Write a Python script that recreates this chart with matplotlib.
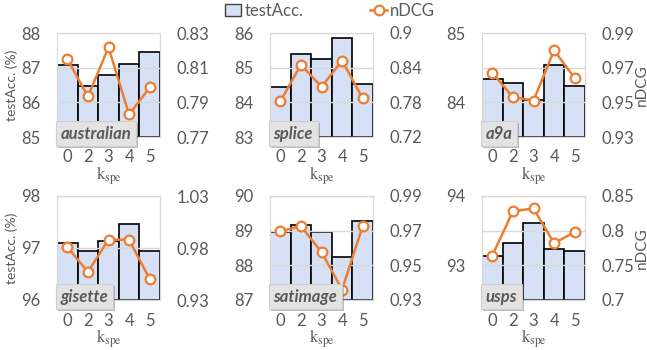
import matplotlib
matplotlib.use("Agg")
import matplotlib.pyplot as plt
import matplotlib.patheffects as pe
from matplotlib.lines import Line2D
from matplotlib.patches import Patch
from matplotlib.ticker import FuncFormatter

plt.rcParams['font.family'] = ['Lato', 'DejaVu Sans']
plt.rcParams['mathtext.fontset'] = 'stix'

k_labels = ["0", "2", "3", "4", "5"]
names = ["australian", "splice", "a9a", "gisette", "satimage", "usps"]

acc_australian = [87.08, 86.47, 86.79, 87.10, 87.45]
acc_splice = [84.45, 85.39, 85.25, 85.85, 84.53]
acc_a9a = [84.34, 84.28, 84.03, 84.54, 84.24]
acc_gisette = [97.10, 96.935, 97.13, 97.47, 96.935]
acc_satimage = [88.95, 89.16, 88.96, 88.23, 89.29]
acc_usps = [93.13, 93.32, 93.61, 93.24, 93.20]

ndcg_australian = [0.815, 0.7934, 0.8217, 0.783, 0.7986]
ndcg_splice = [0.7815, 0.845, 0.807, 0.852, 0.787]
ndcg_a9a = [0.967, 0.953, 0.951, 0.980, 0.964]
ndcg_gisette = [0.981, 0.957, 0.988, 0.988, 0.950]
ndcg_satimage = [0.9697, 0.9726, 0.9577, 0.936, 0.9726]
ndcg_usps = [0.764, 0.828, 0.832, 0.782, 0.798]

acc_all = [acc_australian, acc_splice, acc_a9a, acc_gisette, acc_satimage, acc_usps]
ndcg_all = [ndcg_australian, ndcg_splice, ndcg_a9a, ndcg_gisette, ndcg_satimage, ndcg_usps]

acc_lims = [(85, 88), (83, 86), (83.5, 85), (96, 98), (87, 90), (92.5, 94)]
acc_ticks = [[85, 86, 87, 88], [83, 84, 85, 86], [84, 85], [96, 97, 98], [87, 88, 89, 90], [93, 94]]
ndcg_lims = [(0.77, 0.83), (0.72, 0.9), (0.93, 0.99), (0.93, 1.03), (0.93, 0.99), (0.7, 0.85)]
ndcg_ticks = [[0.77, 0.79, 0.81, 0.83], [0.72, 0.78, 0.84, 0.9], [0.93, 0.95, 0.97, 0.99],
              [0.93, 0.98, 1.03], [0.93, 0.95, 0.97, 0.99], [0.7, 0.75, 0.8, 0.85]]

BAR = '#D6E1F6'
ORANGE = '#ED7D31'
GRAY = '#595959'
FRAME = '#D9D9D9'

W, H = 647, 350
fig = plt.figure(figsize=(W / 100, H / 100), dpi=100)

lefts = [57, 270, 482]
tops = [33, 196]
pw, ph = 103, 104

xs = list(range(len(k_labels)))
for i in range(6):
    r, c = divmod(i, 3)
    ax = fig.add_axes([lefts[c] / W, 1 - (tops[r] + ph) / H, pw / W, ph / H])
    ax2 = ax.twinx()
    lo, hi = acc_lims[i]
    ax.bar(xs, [v - lo for v in acc_all[i]], bottom=lo, width=1.0,
           color=BAR, edgecolor='black', linewidth=1.2, zorder=2)
    ax.set_xlim(-0.5, 4.5)
    ax.set_ylim(lo, hi)
    ax.set_yticks(acc_ticks[i])
    ax.yaxis.set_major_formatter(FuncFormatter(lambda v, p: '%g' % v))
    ax.set_xticks(xs)
    ax.set_xticklabels(k_labels)

    ax2.plot(xs, ndcg_all[i], color=ORANGE, lw=1.8, marker='o', ms=7,
             mfc='white', mec=ORANGE, mew=1.6, zorder=3)
    ax2.set_ylim(*ndcg_lims[i])
    ax2.set_yticks(ndcg_ticks[i])
    ax2.yaxis.set_major_formatter(FuncFormatter(lambda v, p: '%g' % v))
    ax2.grid(axis='y', color=FRAME, lw=1.0, zorder=1)

    for a in (ax, ax2):
        a.tick_params(length=0, pad=12, labelsize=12, labelcolor=GRAY)
        for s in a.spines.values():
            s.set_color(FRAME)
    ax.tick_params(axis='x', pad=9)

    ax.set_xlabel(r'$\mathrm{k}_{\mathrm{spe}}$', fontsize=12, color=GRAY, labelpad=-0.5)
    if c == 0:
        ax.set_ylabel('testAcc. (%)', fontsize=10, color=GRAY, labelpad=2)
    if c == 2:
        ax2.set_ylabel('nDCG', fontsize=11, color=GRAY, labelpad=0)

    t = ax2.text(0.035, -0.045, names[i], transform=ax.transAxes, ha='left', va='bottom',
                 fontsize=12, fontweight='bold', fontstyle='italic', color=GRAY,
                 zorder=10, clip_on=False,
                 bbox=dict(boxstyle='square,pad=0.28', facecolor='#E3E3E3', edgecolor='#CFCFCF', lw=0.8))
    t.get_bbox_patch().set_path_effects([pe.SimplePatchShadow(offset=(1.5, -1.5), alpha=0.35),
                                         pe.Normal()])

handles = [Patch(facecolor=BAR, edgecolor='#404040', lw=1.0, label='testAcc.'),
           Line2D([], [], color=ORANGE, lw=1.8, marker='o', ms=7, mfc='white', mec=ORANGE,
                  mew=1.6, label='nDCG')]
fig.legend(handles=handles, loc='center', bbox_to_anchor=(0.51, 0.97), ncol=2, frameon=False,
           fontsize=12, handlelength=1.0, handletextpad=0.2, columnspacing=4.0,
           labelcolor=GRAY)

fig.savefig('out.png', dpi=100)
